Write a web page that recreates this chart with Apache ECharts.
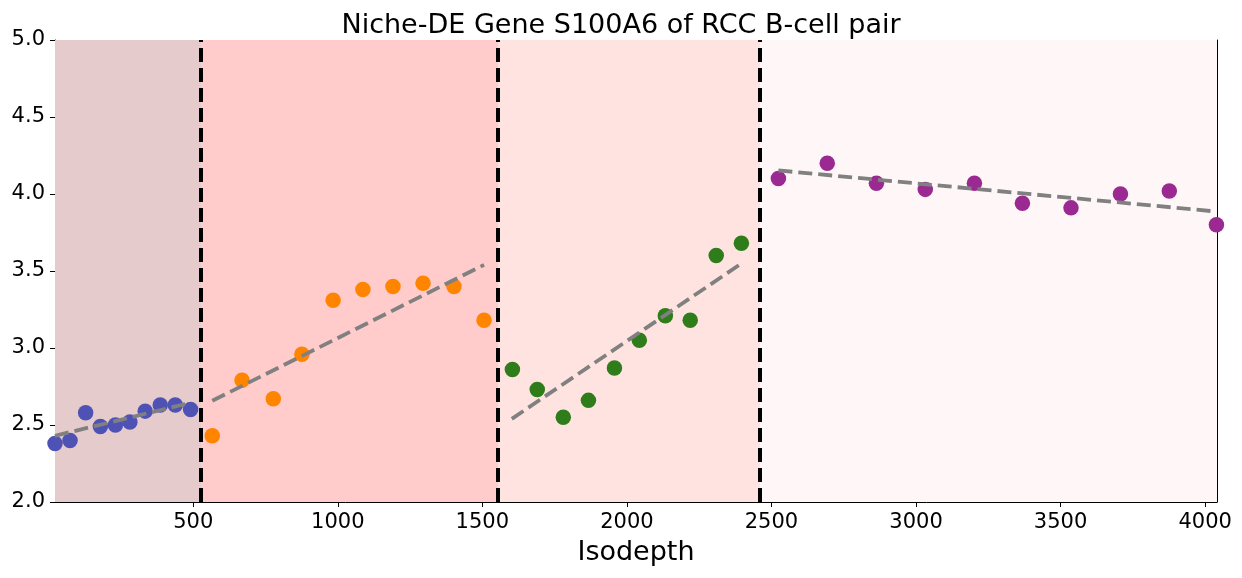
<!DOCTYPE html>
<html>
<head>
<meta charset="utf-8">
<script src="https://cdn.jsdelivr.net/npm/echarts@6/dist/echarts.min.js"></script>
<style>html,body{margin:0;padding:0;background:#fff}#c{width:1242px;height:578px}</style>
</head>
<body>
<div id="c"></div>
<script>
// Blue segment
const blueX = [22, 74, 128, 179, 231, 281, 334, 386, 438, 491];
const blueY = [2.38, 2.40, 2.58, 2.49, 2.50, 2.52, 2.59, 2.63, 2.63, 2.60];
// Orange segment
const orangeX = [566, 669, 777, 876, 984, 1087, 1191, 1295, 1402, 1506];
const orangeY = [2.43, 2.79, 2.67, 2.96, 3.31, 3.38, 3.40, 3.42, 3.40, 3.18];
// Green segment
const greenX = [1604, 1690, 1780, 1867, 1957, 2043, 2133, 2219, 2309, 2396];
const greenY = [2.86, 2.73, 2.55, 2.66, 2.87, 3.05, 3.21, 3.18, 3.60, 3.68];
// Purple segment
const purpleX = [2524, 2693, 2863, 3032, 3202, 3368, 3536, 3707, 3876, 4039];
const purpleY = [4.10, 4.20, 4.07, 4.03, 4.07, 3.94, 3.91, 4.00, 4.02, 3.80];
// Fitted line endpoints per segment [x0, x1], [y0, y1]
const fitX = [[22, 491], [566, 1506], [1602, 2397], [2524, 4039]];
const fitY = [[2.43, 2.645], [2.657, 3.54], [2.54, 3.55], [4.153, 3.886]];
// Region boundaries
const boundaries = [527, 1554, 2461];
const regionEdges = [22, 527, 1554, 2461, 4041];
const regionColors = ['#E5CBCB', '#FFCBCB', '#FFE3E1', '#FFF7F7'];
const xTicks = [500, 1000, 1500, 2000, 2500, 3000, 3500, 4000];
const yTicks = [2.0, 2.5, 3.0, 3.5, 4.0, 4.5, 5.0];
const dotColors = ['#4F52B5', '#FF8400', '#2F7D1A', '#9A2A92'];
const xMin = 22, xMax = 4041;

const font = 'DejaVu Sans';
const zip = (xs, ys) => xs.map((x, i) => [x, ys[i]]);
const segX = [blueX, orangeX, greenX, purpleX];
const segY = [blueY, orangeY, greenY, purpleY];

const series = [];
// background regions + vertical boundaries
series.push({
  type: 'line', data: [], silent: true,
  markArea: {
    silent: true,
    data: regionColors.map((c, i) => [
      { xAxis: regionEdges[i], yAxis: 2, itemStyle: { color: c } },
      { xAxis: regionEdges[i + 1], yAxis: 5 }
    ])
  },
  markLine: {
    silent: true, symbol: 'none', label: { show: false },
    lineStyle: { color: '#000', width: 4, type: [14, 6], opacity: 1 },
    data: boundaries.map(b => ({ xAxis: b })),
    z: 5
  }
});
segX.forEach((xs, i) => {
  series.push({
    type: 'scatter', data: zip(xs, segY[i]), symbolSize: 15.5,
    itemStyle: { color: dotColors[i], opacity: 1 }, z: 3
  });
});
fitX.forEach((xs, i) => {
  series.push({
    type: 'line', data: zip(xs, fitY[i]), symbol: 'none', z: 4,
    lineStyle: { color: '#808080', width: 3.8, type: [14, 6] }
  });
});

const chart = echarts.init(document.getElementById('c'), null, { renderer: 'canvas' });
chart.setOption({
  animation: false,
  backgroundColor: '#fff',
  title: {
    text: 'Niche-DE Gene S100A6 of RCC B-cell pair', left: 'center', top: 7,
    textStyle: { fontFamily: font, fontSize: 27, fontWeight: 'normal', color: '#000' }
  },
  grid: { left: 55, right: 25, top: 40, bottom: 76 },
  xAxis: [{
    type: 'value', min: xMin, max: xMax,
    name: 'Isodepth', nameLocation: 'middle', nameGap: 37,
    nameTextStyle: { fontFamily: font, fontSize: 27, color: '#000' },
    axisLine: { lineStyle: { color: '#000', width: 1 } },
    axisTick: { show: true, customValues: xTicks, length: 5, lineStyle: { color: '#000' } },
    axisLabel: { customValues: xTicks, fontFamily: font, fontSize: 21, color: '#000', margin: 10,
      formatter: v => String(Math.round(v)) },
    splitLine: { show: false }
  }, {
    type: 'value', position: 'top', min: xMin, max: xMax,
    axisLine: { show: true, lineStyle: { color: '#000', width: 1 } },
    axisTick: { show: false }, axisLabel: { show: false }, splitLine: { show: false }
  }],
  yAxis: [{
    type: 'value', min: 2, max: 5, interval: 0.5,
    axisLine: { show: true, lineStyle: { color: '#000', width: 1 } },
    axisTick: { show: true, length: 5, lineStyle: { color: '#000' } },
    axisLabel: { fontFamily: font, fontSize: 21, color: '#000', margin: 10,
      formatter: v => v.toFixed(1) },
    splitLine: { show: false }
  }, {
    type: 'value', position: 'right', min: 2, max: 5,
    axisLine: { show: true, lineStyle: { color: '#000', width: 1 } },
    axisTick: { show: false }, axisLabel: { show: false }, splitLine: { show: false }
  }],
  series: series
});
</script>
</body>
</html>
